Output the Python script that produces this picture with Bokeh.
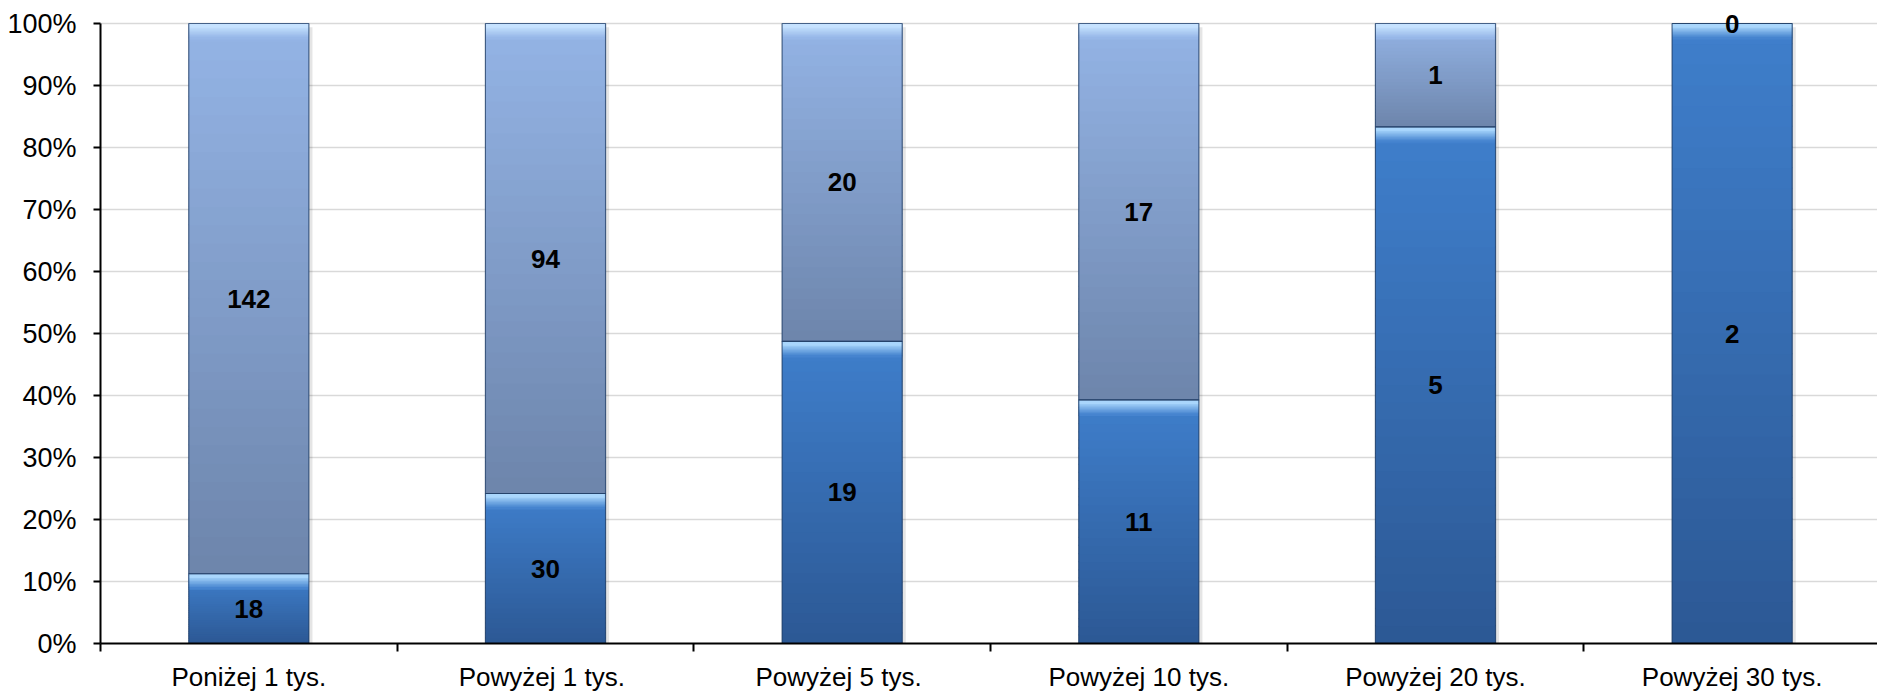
from bokeh.plotting import figure
from bokeh.models import ColumnDataSource, Range1d, FixedTicker, PrintfTickFormatter
from bokeh.core.properties import value
from bokeh.embed import file_html
from bokeh.resources import INLINE

# ---- data ----
categories = ["Poniżej 1 tys.", "Powyżej  1 tys.", "Powyżej  5 tys.",
              "Powyżej 10 tys.", "Powyżej 20 tys.", "Powyżej 30 tys."]
series_lower = [18, 30, 19, 11, 5, 2]
series_upper = [142, 94, 20, 17, 1, 0]
y_ticks = [0, 10, 20, 30, 40, 50, 60, 70, 80, 90, 100]

# ---- styling ----
FONT = "Liberation Sans"
BAR_W = 0.405
lower_top_c, lower_bot_c, lower_hl = "#3f7fcc", "#2c5894", "#a9d6fc"
upper_top_c, upper_bot_c, upper_hl = "#94b4e6", "#6d85ab", "#c6e2ff"
PX_Y = 620 / 100.0  # pixels per percent unit
Y_TOP = 102.1


def hex2rgb(h):
    h = h.lstrip("#")
    return [int(h[i:i + 2], 16) for i in (0, 2, 4)]


def lerp(c1, c2, f):
    a, b = hex2rgb(c1), hex2rgb(c2)
    return "#%02x%02x%02x" % tuple(int(round(a[i] + (b[i] - a[i]) * f)) for i in range(3))


centers = [i + 0.5 for i in range(len(categories))]
totals = [a + b for a, b in zip(series_lower, series_upper)]
pct_lower = [a / t * 100 for a, t in zip(series_lower, totals)]
pct_upper = [b / t * 100 for b, t in zip(series_upper, totals)]

segments = []  # (x, bottom, top, top_color, bottom_color, highlight)
for i, c in enumerate(centers):
    segments.append((c, 0.0, pct_lower[i], lower_top_c, lower_bot_c, lower_hl))
    segments.append((c, pct_lower[i], pct_lower[i] + pct_upper[i], upper_top_c, upper_bot_c, upper_hl))

base = dict(x=[], bottom=[], top=[], color=[])
band = dict(x=[], bottom=[], top=[], color=[])
N = 30
hl_h = 4 / PX_Y
blend_h = 12 / PX_Y
ov = 1.2 / PX_Y
for (x, b, t, ct, cb, hl) in segments:
    h = t - b
    if h <= 0:
        continue
    base["x"].append(x)
    base["bottom"].append(b)
    base["top"].append(t)
    base["color"].append(lerp(ct, cb, 0.5))
    for k in range(N):
        y0 = b + h * k / N
        y1 = min(t, b + h * (k + 1) / N + ov)
        f = 1 - (k + 0.5) / N
        band["x"].append(x)
        band["bottom"].append(y0)
        band["top"].append(y1)
        band["color"].append(lerp(ct, cb, f))
    if h > 3:
        # bevel highlight at the top of the segment
        M = 8
        for k in range(M):
            y1 = t - hl_h - blend_h * k / M + ov
            y0 = t - hl_h - blend_h * (k + 1) / M
            band["x"].append(x)
            band["bottom"].append(y0)
            band["top"].append(y1)
            band["color"].append(lerp(hl, ct, (k + 0.5) / M))
        band["x"].append(x)
        band["bottom"].append(t - hl_h)
        band["top"].append(t)
        band["color"].append(hl)

p = figure(frame_width=1777, frame_height=round(620 * Y_TOP / 100),
           x_range=Range1d(0, 5.99), y_range=Range1d(0, Y_TOP),
           output_backend="svg", toolbar_location=None,
           min_border_left=100, min_border_right=0, min_border_top=10, min_border_bottom=50)
p.outline_line_color = None
p.background_fill_color = "white"
p.xgrid.visible = False
p.ygrid.ticker = FixedTicker(ticks=y_ticks)
p.ygrid.grid_line_color = "#d9d9d9"
p.ygrid.grid_line_width = 1.5

# shadow
p.vbar(x=[c + 0.012 for c in centers], width=BAR_W, bottom=0, top=[99.4] * len(centers),
       fill_color="black", fill_alpha=0.10, line_color=None)

p.vbar(x="x", width=BAR_W, bottom="bottom", top="top", fill_color="color",
       line_color=None, source=ColumnDataSource(base))
p.vbar(x="x", width=BAR_W, bottom="bottom", top="top", fill_color="color",
       line_color=None, source=ColumnDataSource(band))

# outlines
p.vbar(x=[s[0] for s in segments], width=BAR_W, bottom=[s[1] for s in segments],
       top=[s[2] for s in segments], fill_color=None, line_color="#203e66",
       line_alpha=0.75, line_width=1.2)

# labels
lab_x, lab_y, lab_t = [], [], []
for i, c in enumerate(centers):
    lab_x += [c, c]
    lab_y += [pct_lower[i] / 2, pct_lower[i] + pct_upper[i] / 2]
    lab_t += [str(series_lower[i]), str(series_upper[i])]
p.text(x=lab_x, y=lab_y, text=lab_t, text_align="center", text_baseline="middle",
       text_font=value(FONT), text_font_style="bold", text_font_size="26px", text_color="black")

# y axis
ya = p.yaxis[0]
ya.ticker = FixedTicker(ticks=y_ticks)
ya.formatter = PrintfTickFormatter(format="%d%%")
ya.bounds = (0, 100)
ya.axis_line_color = "black"
ya.axis_line_width = 2
ya.major_tick_line_color = "black"
ya.major_tick_line_width = 2
ya.major_tick_out = 7
ya.major_tick_in = 0
ya.minor_tick_line_color = None
ya.major_label_standoff = 17
ya.major_label_text_font = FONT
ya.major_label_text_font_size = "27px"
ya.major_label_text_color = "black"

# x axis
xa = p.xaxis[0]
xa.ticker = FixedTicker(ticks=centers, minor_ticks=list(range(0, 7)))
xa.major_label_overrides = {c: lab for c, lab in zip(centers, categories)}
xa.axis_line_color = "black"
xa.axis_line_width = 2
xa.major_tick_out = 0
xa.major_tick_in = 0
xa.major_tick_line_color = None
xa.minor_tick_line_color = "black"
xa.minor_tick_line_width = 2
xa.minor_tick_out = 8
xa.minor_tick_in = 0
xa.major_label_standoff = 10
xa.major_label_text_font = FONT
xa.major_label_text_font_size = "26px"
xa.major_label_text_color = "black"

open("out.html", "w").write(file_html(p, INLINE))
